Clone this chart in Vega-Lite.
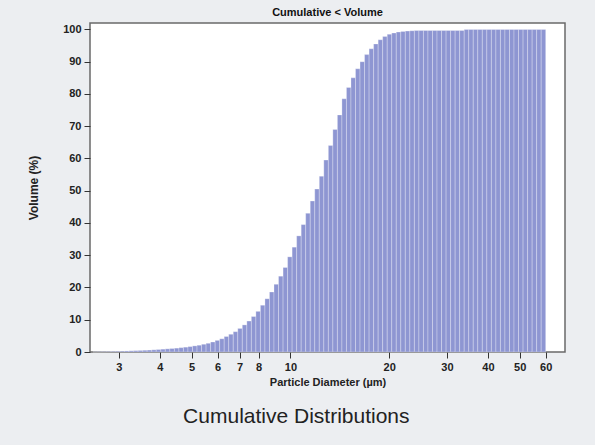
{
  "$schema": "https://vega.github.io/schema/vega-lite/v6.json",
  "background": "#eceef1",
  "padding": {"left": 26, "top": 6, "right": 32, "bottom": 30},
  "title": {"text": "Cumulative Distributions", "orient": "bottom", "anchor": "middle", "font": "Liberation Sans", "fontSize": 21, "fontWeight": "normal", "color": "#222222", "offset": 18},
  "config": {"font": "Liberation Sans", "view": {"stroke": "#6a6a6a", "strokeWidth": 1.5, "fill": "#ffffff"}, "concat": {"spacing": 0}},
  "vconcat": [
    {
      "width": 475,
      "height": 329,
      "title": {"text": "Cumulative < Volume", "font": "Liberation Sans", "fontSize": 11, "fontWeight": "bold", "anchor": "middle", "offset": 5, "color": "#111111"},
      "data": {"values": [
        {"lo": 2.5, "hi": 2.581, "v": 0.05},
        {"lo": 2.581, "hi": 2.664, "v": 0.08},
        {"lo": 2.664, "hi": 2.75, "v": 0.1},
        {"lo": 2.75, "hi": 2.839, "v": 0.13},
        {"lo": 2.839, "hi": 2.93, "v": 0.17},
        {"lo": 2.93, "hi": 3.025, "v": 0.22},
        {"lo": 3.025, "hi": 3.123, "v": 0.27},
        {"lo": 3.123, "hi": 3.223, "v": 0.32},
        {"lo": 3.223, "hi": 3.328, "v": 0.37},
        {"lo": 3.328, "hi": 3.436, "v": 0.42},
        {"lo": 3.436, "hi": 3.546, "v": 0.48},
        {"lo": 3.546, "hi": 3.66, "v": 0.54},
        {"lo": 3.66, "hi": 3.779, "v": 0.6},
        {"lo": 3.779, "hi": 3.901, "v": 0.68},
        {"lo": 3.901, "hi": 4.027, "v": 0.77},
        {"lo": 4.027, "hi": 4.157, "v": 0.88},
        {"lo": 4.157, "hi": 4.291, "v": 0.98},
        {"lo": 4.291, "hi": 4.43, "v": 1.08},
        {"lo": 4.43, "hi": 4.573, "v": 1.2},
        {"lo": 4.573, "hi": 4.72, "v": 1.35},
        {"lo": 4.72, "hi": 4.873, "v": 1.5},
        {"lo": 4.873, "hi": 5.03, "v": 1.68},
        {"lo": 5.03, "hi": 5.193, "v": 1.9},
        {"lo": 5.193, "hi": 5.36, "v": 2.1},
        {"lo": 5.36, "hi": 5.533, "v": 2.4},
        {"lo": 5.533, "hi": 5.712, "v": 2.7},
        {"lo": 5.712, "hi": 5.896, "v": 3.1},
        {"lo": 5.896, "hi": 6.087, "v": 3.6},
        {"lo": 6.087, "hi": 6.283, "v": 4.1},
        {"lo": 6.283, "hi": 6.486, "v": 4.8},
        {"lo": 6.486, "hi": 6.696, "v": 5.5},
        {"lo": 6.696, "hi": 6.912, "v": 6.3},
        {"lo": 6.912, "hi": 7.135, "v": 7.3},
        {"lo": 7.135, "hi": 7.366, "v": 8.4},
        {"lo": 7.366, "hi": 7.603, "v": 9.6},
        {"lo": 7.603, "hi": 7.849, "v": 11.0},
        {"lo": 7.849, "hi": 8.102, "v": 12.6},
        {"lo": 8.102, "hi": 8.364, "v": 14.5},
        {"lo": 8.364, "hi": 8.634, "v": 16.5},
        {"lo": 8.634, "hi": 8.913, "v": 18.6},
        {"lo": 8.913, "hi": 9.201, "v": 21.0},
        {"lo": 9.201, "hi": 9.498, "v": 23.5},
        {"lo": 9.498, "hi": 9.804, "v": 26.2},
        {"lo": 9.804, "hi": 10.121, "v": 29.5},
        {"lo": 10.121, "hi": 10.448, "v": 32.5},
        {"lo": 10.448, "hi": 10.785, "v": 36.0},
        {"lo": 10.785, "hi": 11.133, "v": 39.5},
        {"lo": 11.133, "hi": 11.493, "v": 43.0},
        {"lo": 11.493, "hi": 11.864, "v": 46.8},
        {"lo": 11.864, "hi": 12.247, "v": 50.5},
        {"lo": 12.247, "hi": 12.643, "v": 54.5},
        {"lo": 12.643, "hi": 13.051, "v": 59.5},
        {"lo": 13.051, "hi": 13.472, "v": 64.0},
        {"lo": 13.472, "hi": 13.907, "v": 69.0},
        {"lo": 13.907, "hi": 14.356, "v": 73.5},
        {"lo": 14.356, "hi": 14.82, "v": 78.5},
        {"lo": 14.82, "hi": 15.298, "v": 82.0},
        {"lo": 15.298, "hi": 15.792, "v": 85.0},
        {"lo": 15.792, "hi": 16.302, "v": 87.8},
        {"lo": 16.302, "hi": 16.829, "v": 90.0},
        {"lo": 16.829, "hi": 17.372, "v": 92.2},
        {"lo": 17.372, "hi": 17.933, "v": 94.0},
        {"lo": 17.933, "hi": 18.512, "v": 95.5},
        {"lo": 18.512, "hi": 19.11, "v": 96.8},
        {"lo": 19.11, "hi": 19.727, "v": 97.8},
        {"lo": 19.727, "hi": 20.364, "v": 98.5},
        {"lo": 20.364, "hi": 21.022, "v": 98.9},
        {"lo": 21.022, "hi": 21.701, "v": 99.2},
        {"lo": 21.701, "hi": 22.401, "v": 99.4},
        {"lo": 22.401, "hi": 23.125, "v": 99.5},
        {"lo": 23.125, "hi": 23.872, "v": 99.6},
        {"lo": 23.872, "hi": 24.643, "v": 99.7},
        {"lo": 24.643, "hi": 25.439, "v": 99.7},
        {"lo": 25.439, "hi": 26.26, "v": 99.7},
        {"lo": 26.26, "hi": 27.108, "v": 99.7},
        {"lo": 27.108, "hi": 27.983, "v": 99.7},
        {"lo": 27.983, "hi": 28.887, "v": 99.7},
        {"lo": 28.887, "hi": 29.82, "v": 99.7},
        {"lo": 29.82, "hi": 30.783, "v": 99.7},
        {"lo": 30.783, "hi": 31.777, "v": 99.7},
        {"lo": 31.777, "hi": 32.803, "v": 99.7},
        {"lo": 32.803, "hi": 33.862, "v": 99.7},
        {"lo": 33.862, "hi": 34.956, "v": 100},
        {"lo": 34.956, "hi": 36.085, "v": 100},
        {"lo": 36.085, "hi": 37.25, "v": 100},
        {"lo": 37.25, "hi": 38.453, "v": 100},
        {"lo": 38.453, "hi": 39.695, "v": 100},
        {"lo": 39.695, "hi": 40.977, "v": 100},
        {"lo": 40.977, "hi": 42.3, "v": 100},
        {"lo": 42.3, "hi": 43.666, "v": 100},
        {"lo": 43.666, "hi": 45.076, "v": 100},
        {"lo": 45.076, "hi": 46.532, "v": 100},
        {"lo": 46.532, "hi": 48.035, "v": 100},
        {"lo": 48.035, "hi": 49.586, "v": 100},
        {"lo": 49.586, "hi": 51.187, "v": 100},
        {"lo": 51.187, "hi": 52.84, "v": 100},
        {"lo": 52.84, "hi": 54.546, "v": 100},
        {"lo": 54.546, "hi": 56.308, "v": 100},
        {"lo": 56.308, "hi": 58.126, "v": 100},
        {"lo": 58.126, "hi": 60.0, "v": 100}
      ]},
      "mark": {"type": "bar", "fill": "#8e96d2", "stroke": "#ffffff", "strokeOpacity": 0.35, "strokeWidth": 0.8},
      "encoding": {
        "x": {"field": "lo", "type": "quantitative",
          "scale": {"type": "log", "domain": [2.45, 68.7], "nice": false},
          "axis": {"values": [3, 4, 5, 6, 7, 8, 10, 20, 30, 40, 50, 60], "format": "d", "title": "Particle Diameter (µm)", "grid": false, "domain": false, "tickSize": 6, "tickColor": "#333333", "labelFontSize": 11, "labelFontWeight": "bold", "labelColor": "#222222", "labelPadding": 3, "labelFlush": false, "labelOverlap": false, "titleFontSize": 11, "titleFontWeight": "bold", "titleColor": "#222222", "titlePadding": 4}},
        "x2": {"field": "hi"},
        "y": {"field": "v", "type": "quantitative",
          "scale": {"domain": [0, 102], "nice": false},
          "axis": {"values": [0, 10, 20, 30, 40, 50, 60, 70, 80, 90, 100], "title": "Volume (%)", "grid": false, "domain": false, "tickSize": 6, "tickColor": "#333333", "labelFontSize": 11, "labelFontWeight": "bold", "labelColor": "#222222", "labelPadding": 3, "titleFontSize": 12, "titleFontWeight": "bold", "titleColor": "#222222", "titlePadding": 22}},
        "y2": {"datum": 0}
      }
    }
  ]
}
